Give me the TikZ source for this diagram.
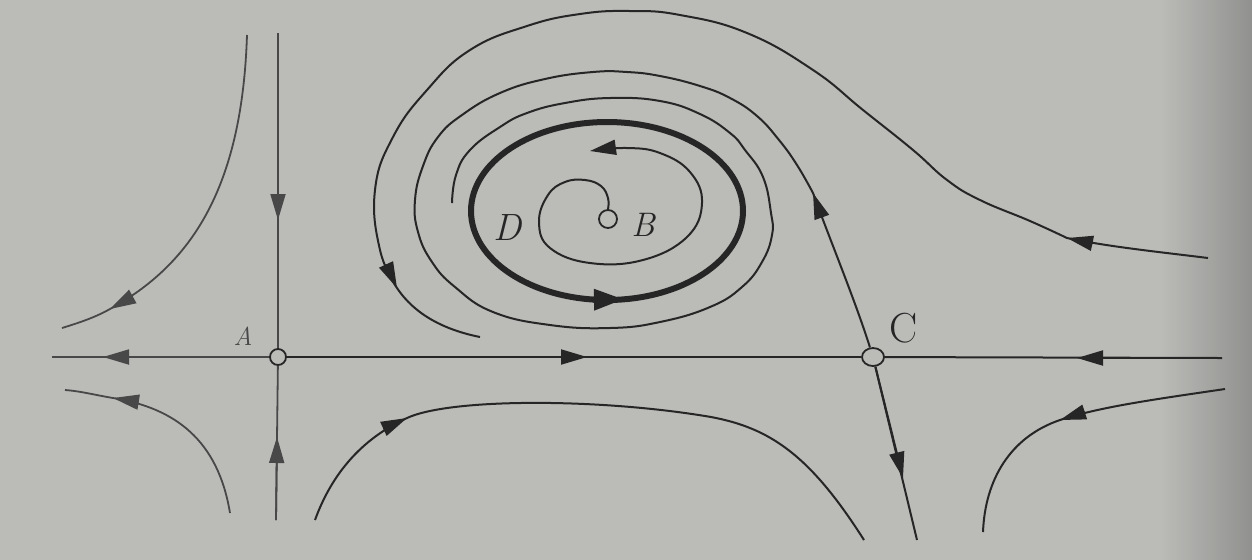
\documentclass[tikz,border=0pt]{standalone}
\usepackage{fontspec}
\usetikzlibrary{arrows.meta,shapes.geometric,calc}
\definecolor{bg}{RGB}{187,187,184}
\definecolor{bgdark}{RGB}{140,140,138}
\definecolor{ink}{RGB}{38,38,38}
\definecolor{inkl}{RGB}{72,72,72}
\begin{document}
\begin{tikzpicture}[x=0.5pt,y=-0.5pt,
  traj/.style={draw=ink, line width=1pt},
  trajl/.style={draw=inkl, line width=0.9pt},
  ar/.style={-{Triangle[length=13pt,width=7.5pt]}},
  bigar/.style={-{Triangle[length=15pt,width=10pt]}},
  eqpt/.style={circle, draw=ink, fill=bg, line width=0.9pt, inner sep=0pt, minimum size=8pt},
  lbl/.style={inner sep=0pt, text=ink}]
\useasboundingbox (0,0) rectangle (1252,559);
\fill[bg] (-10,-10) rectangle (1262,569);
\shade[left color=bg, right color=bgdark] (1160,-10) rectangle (1262,569);

% equilibria
\node[eqpt] (A) at (278,357) {};
\node[eqpt, ellipse, minimum width=11pt, minimum height=9pt] (C) at (873,357) {};
\node[eqpt, minimum size=9pt] (B) at (608,219) {};

% labels
\node[lbl, font=\fontsize{13}{15}\selectfont\itshape, text=inkl] (la) at (243,336) {A};
\node[lbl, font=\fontsize{21}{24}\selectfont] (lc) at (904,328) {C};
\node[lbl, font=\fontsize{17}{20}\selectfont\itshape] (lb) at (643,225) {B};
\node[lbl, font=\fontsize{19}{22}\selectfont\itshape] (ld) at (508,228) {D};

% free ends
\coordinate (Lend) at (52,357);
\coordinate (Rend) at (1222,358);
\coordinate (Atop) at (278,33);
\coordinate (Abot) at (276,520);
\coordinate (Cbot) at (917,540);

% horizontal axis
\draw[trajl] (A) -- (Lend);
\draw[trajl, ar] (A) -- (103,357);
\draw[traj] (A) -- (C);
\draw[traj, ar] (A) -- (587,357);
\draw[traj] (Rend) -- (C);
\draw[traj, ar] (Rend) -- (1077,358);

% vertical through A
\draw[trajl] (Atop) -- (A);
\draw[trajl, ar] (Atop) -- (278,220);
\draw[trajl] (Abot) -- (A);
\draw[trajl, ar] (Abot) -- (277,437);

% C downward separatrix
\draw[traj] (C) -- (Cbot);
\draw[traj, ar] (C) -- (903,478);

% C upward separatrix spiralling onto the cycle
\draw[traj] (C) .. controls (855,300) and (830,240) .. (813,193)
  plot[smooth, tension=0.75] coordinates {(813,193) (797,165) (779,140) (757,116) (730,98) (700,86) (660,76) (627,72) (593,72) (545,79) (500,93) (462,115) (438,137) (423,166) (415,200) (418,232) (432,262) (455,287) (493,312) (550,325) (610,328) (660,322) (710,307) (742,287) (762,262) (772,235) (771,213) (763,177) (745,150) (730,133) (700,114) (660,101) (610,98) (565,103) (527,113) (500,127) (470,150) (456,175) (452,203)};
\draw[traj, ar] ($(813,193)!13pt!(830,240)$) -- (813,193);

% outer trajectory
\coordinate (ORend) at (1208,258);
\coordinate (OLend) at (480,337);
\draw[traj] (ORend) .. controls (1160,252) and (1110,247) .. (1067,238)
  plot[smooth, tension=0.75] coordinates {(1067,238) (1030,221) (980,200) (947,180) (913,150) (863,110) (813,70) (747,33) (680,15) (630,11) (580,14) (527,26) (470,50) (427,90) (393,137) (375,190) (380,250) (397,288)}
  .. controls (415,315) and (445,330) .. (OLend);
\draw[traj, ar] ($(1067,238)!13pt!(1110,247)$) -- (1067,238);
\draw[traj, ar] ($(397,288)!13pt!(384,260)$) -- (397,288);

% limit cycle
\draw[draw=ink, line width=3pt] (607,211) ellipse [x radius=68pt, y radius=44.5pt];
\draw[draw=ink, line width=3pt, bigar] (593,299.7) -- (624,299.3);

% inner spiral from B
\draw[traj, ar] plot[smooth, tension=0.7] coordinates {(B.north) (608,198) (601,186) (585,180) (565,182) (548,195) (539,222) (550,248) (590,263) (643,260) (687,237) (702,203) (690,172) (660,153) (627,148) (590,151)};

% upper-left hyperbola
\coordinate (ULs) at (247,35);
\coordinate (ULe) at (62,328);
\draw[trajl] (ULs) .. controls (242,190) and (190,265) .. (110,309)
  .. controls (94,318) and (78,323) .. (ULe);
\draw[trajl, ar] ($(110,309)!13pt!(190,265)$) -- (110,309);

% lower-left hyperbola
\coordinate (LLs) at (230,513);
\coordinate (LLe) at (65,390);
\draw[trajl] (LLs) .. controls (218,440) and (175,408) .. (113,398)
  .. controls (95,395) and (80,391) .. (LLe);
\draw[trajl, ar] ($(113,398)!13pt!(175,408)$) -- (113,398);

% bottom middle trajectory
\coordinate (BMs) at (315,520);
\coordinate (BMe) at (864,540);
\draw[traj] (BMs) .. controls (335,465) and (370,435) .. (407,418)
  .. controls (450,398) and (600,398) .. (711,417)
  .. controls (770,428) and (810,455) .. (BMe);
\draw[traj, ar] ($(407,418)!13pt!(370,435)$) -- (407,418);

% lower right trajectory
\coordinate (LRs) at (1225,389);
\coordinate (LRe) at (983,532);
\draw[traj] (LRs) .. controls (1150,400) and (1100,407) .. (1060,420)
  .. controls (1010,437) and (985,480) .. (LRe);
\draw[traj, ar] ($(1060,420)!13pt!(1100,407)$) -- (1060,420);
\end{tikzpicture}
\end{document}
